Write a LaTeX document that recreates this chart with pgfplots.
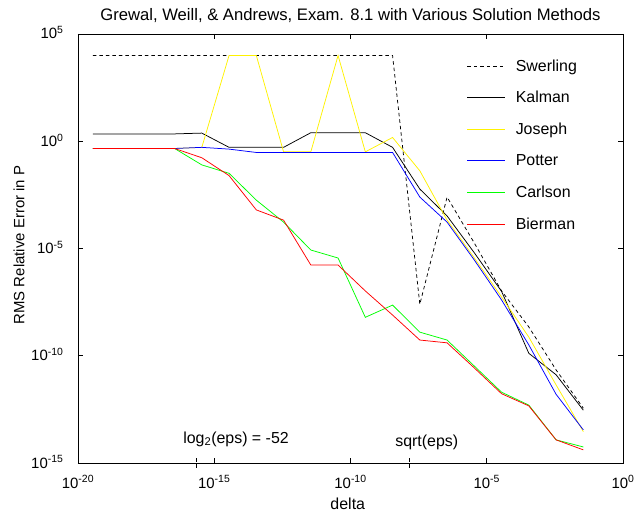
\documentclass[border=0pt]{standalone}
\usepackage{fontspec}
\setmainfont{Liberation Sans}
\usepackage{pgfplots}
\pgfplotsset{compat=1.18}

\newcommand{\tfont}{\fontsize{16}{19}\selectfont}
\newcommand{\kfont}{\fontsize{15}{18}\selectfont}

\begin{document}
\begin{tikzpicture}
\useasboundingbox (-78bp,-48bp) rectangle (556bp,463bp);
\begin{axis}[
    at={(0,0)}, anchor=south west,
    scale only axis, width=545bp, height=429bp,
    xmode=log, ymode=log,
    xmin=1e-20, xmax=1, ymin=1e-15, ymax=1e5,
    xtick={1e-20,1e-15,1e-10,1e-5,1},
    xticklabels={10\textsuperscript{-20},10\textsuperscript{-15},10\textsuperscript{-10},10\textsuperscript{-5},10\textsuperscript{0}},
    ytick={1e-15,1e-10,1e-5,1,1e5},
    yticklabels={10\textsuperscript{-15},10\textsuperscript{-10},10\textsuperscript{-5},10\textsuperscript{0},10\textsuperscript{5}},
    minor xtick={}, minor ytick={},
    tick align=inside, major tick length=5bp,
    tick style={black, line width=0.6bp},
    axis line style={line width=0.8bp},
    xticklabel style={font=\kfont, anchor=base, yshift=-25bp},
    yticklabel style={font=\kfont, anchor=base east, xshift=-11bp, yshift=-5bp},
    title={Grewal, Weill, \& Andrews, Exam. 8.1 with Various Solution Methods},
    title style={font=\fontsize{16.7}{20}\selectfont, at={(axis description cs:0.5,1)}, anchor=base, yshift=8bp},
    xlabel={delta},
    xlabel style={font=\tfont, at={(axis description cs:0.495,0)}, anchor=base, yshift=-46bp},
    ylabel={RMS Relative Error in P},
    ylabel style={font=\fontsize{15}{18}\selectfont, at={(axis description cs:-0.108,0.508)}, anchor=center, rotate=0},
    legend cell align=left,
    legend image code/.code={\draw[#1, line width=1bp] (0bp,0bp) -- (38bp,0bp);},
    legend style={draw=none, fill=none, font=\tfont, inner sep=0pt,
        at={(axis description cs:0.713,0.9457)}, anchor=north west,
        row sep=14.7bp, column sep=8bp},
    every axis plot/.append style={line width=0.75bp},
    clip=false,
]
% Swerling
\addplot[black, dash pattern=on 3.5bp off 3bp] coordinates {
(3.5e-20,1e4) (3.5e-19,1e4) (3.5e-18,1e4) (3.5e-17,1e4) (3.5e-16,1e4) (3.5e-15,1e4)
(3.5e-14,1e4) (3.5e-13,1e4) (3.5e-12,1e4) (3.5e-11,1e4) (3.5e-10,1e4) (3.5e-9,1e4)
(3.5e-8,2.5e-8) (3.5e-7,2.5e-3) (3.5e-6,1.8e-5) (3.5e-5,1.05e-7) (3.5e-4,2.2e-9)
(3.5e-3,2.2e-11) (3.5e-2,3.6e-13)};
% Kalman
\addplot[black] coordinates {
(3.5e-20,2.2) (3.5e-19,2.2) (3.5e-18,2.2) (3.5e-17,2.2) (3.5e-16,2.4) (3.5e-15,0.52)
(3.5e-14,0.52) (3.5e-13,0.52) (3.5e-12,2.5) (3.5e-11,2.5) (3.5e-10,2.5) (3.5e-9,0.52)
(3.5e-8,5.9e-3) (3.5e-7,3.3e-4) (3.5e-6,6.3e-6) (3.5e-5,1e-7) (3.5e-4,1.3e-10)
(3.5e-3,1.3e-11) (3.5e-2,2.9e-13)};
% Joseph
\addplot[yellow] coordinates {
(3.5e-20,0.46) (3.5e-19,0.46) (3.5e-18,0.46) (3.5e-17,0.46) (3.5e-16,0.52) (3.5e-15,1e4)
(3.5e-14,1e4) (3.5e-13,0.32) (3.5e-12,0.32) (3.5e-11,1e4) (3.5e-10,0.32) (3.5e-9,1.5)
(3.5e-8,0.042) (3.5e-7,2.1e-4) (3.5e-6,3.6e-6) (3.5e-5,5.5e-8) (3.5e-4,7.4e-10)
(3.5e-3,4.4e-12) (3.5e-2,2.9e-14)};
% Potter
\addplot[blue] coordinates {
(3.5e-20,0.46) (3.5e-19,0.46) (3.5e-18,0.46) (3.5e-17,0.46) (3.5e-16,0.52) (3.5e-15,0.43)
(3.5e-14,0.30) (3.5e-13,0.30) (3.5e-12,0.30) (3.5e-11,0.30) (3.5e-10,0.30) (3.5e-9,0.30)
(3.5e-8,2.5e-3) (3.5e-7,1.7e-4) (3.5e-6,2.9e-6) (3.5e-5,4e-8) (3.5e-4,3.2e-10)
(3.5e-3,1.6e-12) (3.5e-2,3.5e-14)};
% Carlson
\addplot[green] coordinates {
(3.5e-20,0.46) (3.5e-19,0.46) (3.5e-18,0.46) (3.5e-17,0.46) (3.5e-16,0.079) (3.5e-15,0.032)
(3.5e-14,1.8e-3) (3.5e-13,1.7e-4) (3.5e-12,8.5e-6) (3.5e-11,3.6e-6) (3.5e-10,6.2e-9) (3.5e-9,2.3e-8)
(3.5e-8,1.26e-9) (3.5e-7,5.4e-10) (3.5e-6,3.3e-11) (3.5e-5,2e-12) (3.5e-4,5e-13)
(3.5e-3,1.2e-14) (3.5e-2,5.6e-15)};
% Bierman
\addplot[red] coordinates {
(3.5e-20,0.46) (3.5e-19,0.46) (3.5e-18,0.46) (3.5e-17,0.46) (3.5e-16,0.17) (3.5e-15,0.025)
(3.5e-14,6.3e-4) (3.5e-13,2.1e-4) (3.5e-12,1.7e-6) (3.5e-11,1.7e-6) (3.5e-10,1.05e-7) (3.5e-9,7.9e-9)
(3.5e-8,5.4e-10) (3.5e-7,4e-10) (3.5e-6,2.7e-11) (3.5e-5,1.7e-12) (3.5e-4,4.6e-13)
(3.5e-3,1.2e-14) (3.5e-2,4.1e-15)};
\legend{Swerling, Kalman, Joseph, Potter, Carlson, Bierman}

% eps markers on the delta axis
\draw[black, line width=0.7bp, dash pattern=on 4bp off 2bp]
    ([yshift=5bp]axis cs:2.22e-16,1e-15) -- ([yshift=-6bp]axis cs:2.22e-16,1e-15);
\draw[black, line width=0.7bp, dash pattern=on 4bp off 2bp]
    ([yshift=5bp]axis cs:1.49e-8,1e-15) -- ([yshift=-6bp]axis cs:1.49e-8,1e-15);
\node[font=\tfont, anchor=base, inner sep=0pt] at (axis description cs:0.29,0.046)
    {log\textsubscript{2}(eps) = -52};
\node[font=\tfont, anchor=base, inner sep=0pt] at (axis description cs:0.64,0.038) {sqrt(eps)};
\end{axis}
\end{tikzpicture}
\end{document}
